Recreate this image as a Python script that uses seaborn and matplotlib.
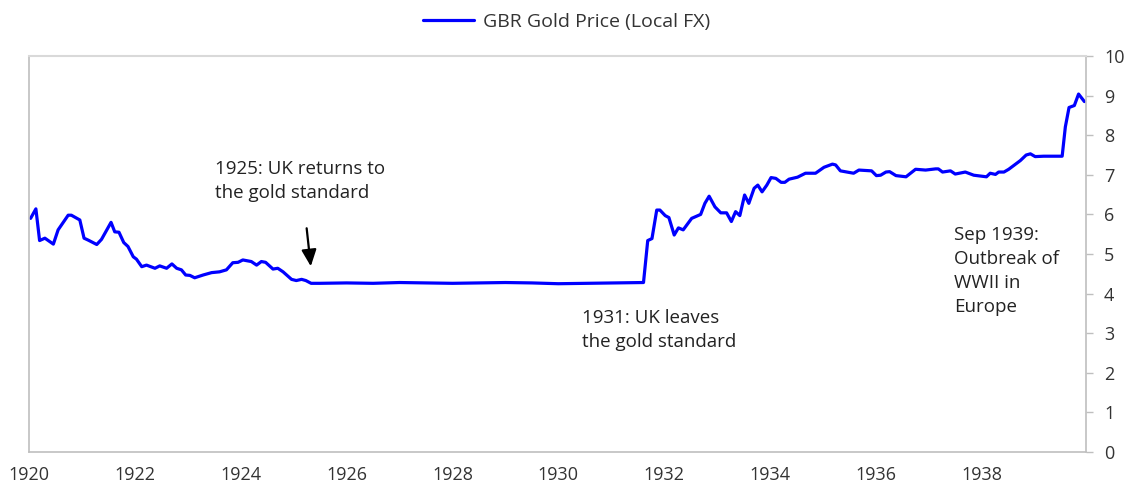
#!/usr/bin/env python3
"""GBR gold price in local currency, 1920-1939, with gold standard annotations."""

import matplotlib
matplotlib.use("Agg")
import matplotlib.pyplot as plt
import numpy as np
import pandas as pd
import seaborn as sns

# Decimal year and gold price (GBP)
years = [
    1920.03, 1920.13, 1920.20, 1920.30, 1920.46, 1920.55, 1920.74, 1920.80, 1920.96,
    1921.04, 1921.12, 1921.28, 1921.37, 1921.55, 1921.62, 1921.70, 1921.79, 1921.87,
    1921.97, 1922.03, 1922.13, 1922.22, 1922.38, 1922.47, 1922.60, 1922.70, 1922.79,
    1922.88, 1922.96, 1923.04, 1923.13, 1923.29, 1923.45, 1923.60, 1923.73, 1923.85,
    1923.95, 1924.04, 1924.20, 1924.30, 1924.39, 1924.47, 1924.61, 1924.70, 1924.80,
    1924.96, 1925.05, 1925.15, 1925.23, 1925.33, 1925.49, 1926.00, 1926.50, 1927.00,
    1927.50, 1928.00, 1928.50, 1929.00, 1929.50, 1930.00, 1930.50, 1931.00, 1931.61,
    1931.69, 1931.77, 1931.86, 1931.92, 1932.02, 1932.09, 1932.19, 1932.27, 1932.36,
    1932.52, 1932.69, 1932.77, 1932.85, 1932.96, 1933.07, 1933.18, 1933.27, 1933.35,
    1933.43, 1933.52, 1933.60, 1933.70, 1933.77, 1933.85, 1933.94, 1934.02, 1934.11,
    1934.21, 1934.28, 1934.36, 1934.52, 1934.67, 1934.86, 1935.02, 1935.18, 1935.24,
    1935.33, 1935.58, 1935.68, 1935.92, 1936.01, 1936.09, 1936.19, 1936.26, 1936.38,
    1936.57, 1936.75, 1936.94, 1937.13, 1937.18, 1937.26, 1937.41, 1937.50, 1937.69,
    1937.85, 1938.09, 1938.16, 1938.26, 1938.32, 1938.42, 1938.51, 1938.62, 1938.73,
    1938.84, 1938.92, 1939.01, 1939.17, 1939.52, 1939.58, 1939.65, 1939.75, 1939.83,
    1939.94,
]
gold_price = [
    5.90, 6.14, 5.34, 5.40, 5.25, 5.61, 5.98, 5.98, 5.86,
    5.40, 5.35, 5.24, 5.37, 5.80, 5.56, 5.55, 5.29, 5.19,
    4.93, 4.87, 4.68, 4.72, 4.64, 4.70, 4.64, 4.75, 4.64,
    4.60, 4.47, 4.46, 4.40, 4.47, 4.53, 4.55, 4.60, 4.78,
    4.79, 4.85, 4.81, 4.72, 4.81, 4.79, 4.62, 4.64, 4.55,
    4.36, 4.33, 4.36, 4.33, 4.26, 4.26, 4.27, 4.26, 4.28,
    4.27, 4.26, 4.27, 4.28, 4.27, 4.25, 4.26, 4.27, 4.28,
    5.34, 5.39, 6.11, 6.11, 5.97, 5.92, 5.48, 5.66, 5.61,
    5.90, 6.00, 6.28, 6.46, 6.19, 6.04, 6.04, 5.82, 6.07,
    5.97, 6.49, 6.28, 6.66, 6.74, 6.57, 6.74, 6.93, 6.91,
    6.81, 6.81, 6.89, 6.94, 7.04, 7.04, 7.19, 7.27, 7.25,
    7.10, 7.04, 7.12, 7.10, 6.98, 6.99, 7.07, 7.08, 6.98,
    6.95, 7.14, 7.12, 7.15, 7.15, 7.07, 7.10, 7.02, 7.07,
    6.99, 6.95, 7.04, 7.01, 7.07, 7.07, 7.14, 7.25, 7.36,
    7.50, 7.53, 7.46, 7.47, 7.47, 8.21, 8.70, 8.75, 9.04,
    8.85,
]
series_name = "GBR Gold Price (Local FX)"
x_ticks = list(range(1920, 1939, 2))
y_ticks = list(range(0, 11))

sns.set_style("white")
plt.rcParams["font.family"] = ["Open Sans", "DejaVu Sans"]

df = pd.DataFrame({"year": years, "price": gold_price, "series": series_name})

fig = plt.figure(figsize=(11.33, 4.94), dpi=100)
ax = fig.add_axes([0.0256, 0.085, 0.9329, 0.8016])

sns.lineplot(data=df, x="year", y="price", hue="series", palette=["#0000ff"],
             linewidth=2.3, ax=ax, legend=False)

ax.set_xlim(1920, 1939.97)
ax.set_ylim(0, 10)
ax.set_xticks(x_ticks)
ax.set_yticks(y_ticks)
ax.set_xlabel("")
ax.set_ylabel("")

ax.yaxis.tick_right()
ax.tick_params(axis="y", which="both", direction="out", length=5, width=1,
               color="#bfbfbf", labelsize=13, labelcolor="#333333", pad=8,
               left=False, right=True)
ax.tick_params(axis="x", direction="out", length=5, width=1, color="#bfbfbf",
               labelsize=13, labelcolor="#333333", pad=5)

for side in ["left", "right", "bottom"]:
    ax.spines[side].set_color("#bfbfbf")
    ax.spines[side].set_linewidth(1.2)
ax.spines["top"].set_color("#d9d9d9")
ax.spines["top"].set_linewidth(1.5)

# Legend centred above the plot
handle = plt.Line2D([], [], color="#0000ff", linewidth=2.3)
fig.legend([handle], [series_name], loc="center", bbox_to_anchor=(0.5, 0.955),
           frameon=False, fontsize=14, handlelength=2.6, handletextpad=0.45,
           labelcolor="#333333")

# Annotations
txt = dict(fontsize=13.5, color="#222222", ha="left", va="top", linespacing=1.45)
ax.text(1923.52, 7.38, "1925: UK returns to\nthe gold standard", **txt)
ax.text(1930.45, 3.61, "1931: UK leaves\nthe gold standard", **txt)
ax.text(1937.47, 5.72, "Sep 1939:\nOutbreak of\nWWII in\nEurope", **txt)

ax.annotate("", xy=(1925.33, 4.62), xytext=(1925.24, 5.72),
            arrowprops=dict(arrowstyle="-|>,head_length=1.0,head_width=0.45",
                            color="black", lw=1.6))

fig.savefig("out.png", dpi=100)
